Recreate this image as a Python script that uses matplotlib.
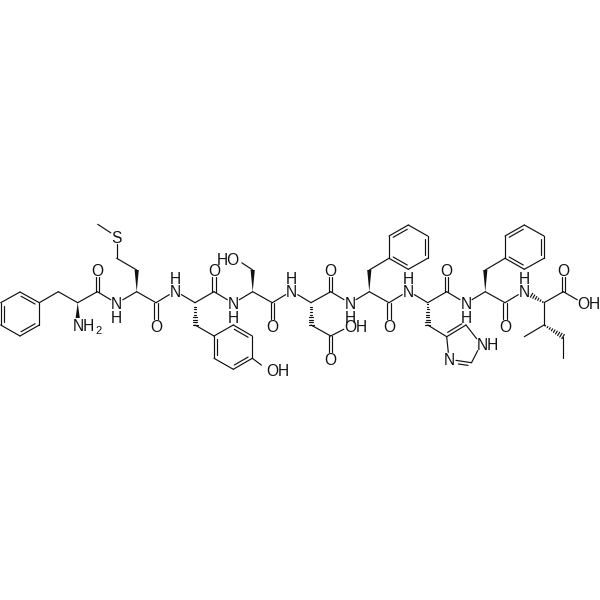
import numpy as np
import matplotlib
matplotlib.use("Agg")
import matplotlib.pyplot as plt
from matplotlib.collections import LineCollection
from matplotlib.patches import Polygon

plt.rcParams["font.family"] = ["Liberation Sans", "DejaVu Sans"]

# atoms in pixels
atom_names = [
    "r1a", "r1b", "r1c", "r1d", "r1e", "r1f", "cb1", "ca1", "n1", "c1", "o1",
    "n2", "ca2", "cb2", "cg2", "s2", "me2", "c2", "o2",
    "n3", "ca3", "cb3", "r3a", "r3b", "r3c", "r3d", "r3e", "r3f", "oh3", "c3", "o3",
    "n4", "ca4", "cb4", "oh4", "c4", "o4",
    "n5", "ca5", "cb5", "cg5", "od5", "oh5", "c5", "o5",
    "n6", "ca6", "cb6", "r6a", "r6b", "r6c", "r6d", "r6e", "r6f", "c6", "o6",
    "n7", "ca7", "cb7", "im1", "im2", "im3", "im4", "im5", "c7", "o7",
    "n8", "ca8", "cb8", "r8a", "r8b", "r8c", "r8d", "r8e", "r8f", "c8", "o8",
    "n9", "ca9", "c9", "o9", "oh9", "cb9", "me9", "cg9", "cd9",
]
atom_x = [
    39.3, 39.3, 20, 0.7, 0.7, 20, 58.3, 77.7, 77.7, 97.3, 97.3,
    116.7, 136.7, 136.7, 116.7, 116.7, 97.7, 156, 156,
    175.3, 195, 195, 214, 233.3, 252.3, 252.3, 233.3, 214, 267, 214, 214,
    233.3, 252.7, 252.7, 236, 272.3, 272.3,
    291.7, 311, 311, 330.7, 330.7, 350, 330.7, 330.7,
    350, 369.3, 369.3, 389, 389, 408.3, 427.7, 427.7, 408.3, 389, 389,
    408.3, 427.7, 427.7, 446.7, 466, 481, 471.5, 449, 446.7, 446.7,
    466, 485.3, 485.3, 505, 505, 524.3, 544, 544, 524.3, 505, 505,
    524.3, 544, 563.3, 563.3, 583.3, 544, 524.3, 563.3, 563.3,
]
atom_y = [
    302.7, 325, 336, 325, 302.7, 292, 291.7, 302.7, 325, 291.7, 270,
    303.3, 291.7, 270, 258.3, 236.7, 224.3, 302.7, 325.7,
    291, 302.7, 325, 336, 325, 336, 358.3, 369.3, 358.3, 369.3, 291.7, 270,
    303.3, 291.7, 270, 259, 302.7, 325.7,
    291, 302.7, 325, 336, 359, 326, 291.7, 270,
    303.3, 291.7, 270, 258.3, 236, 225, 236, 258.3, 269.3, 302.7, 325.7,
    291, 302.7, 325, 336.7, 325, 344.3, 362.7, 359.3, 291.7, 270,
    303.3, 291.7, 270, 258.3, 236, 225, 236, 258.3, 269.3, 302.7, 325.7,
    291, 302.7, 291.7, 270, 303.3, 325, 336.7, 336.7, 358.3,
]

single_bonds = [
    ("r1a", "r1b"), ("r1c", "r1d"), ("r1e", "r1f"), ("r1a", "cb1"), ("cb1", "ca1"),
    ("ca1", "c1"), ("c1", "n2"), ("n2", "ca2"), ("cb2", "cg2"), ("cg2", "s2"),
    ("s2", "me2"), ("ca2", "c2"), ("c2", "n3"), ("n3", "ca3"), ("cb3", "r3a"),
    ("r3a", "r3b"), ("r3c", "r3d"), ("r3e", "r3f"), ("r3d", "oh3"), ("ca3", "c3"),
    ("c3", "n4"), ("n4", "ca4"), ("cb4", "oh4"), ("ca4", "c4"), ("c4", "n5"),
    ("n5", "ca5"), ("cb5", "cg5"), ("cg5", "oh5"), ("ca5", "c5"), ("c5", "n6"),
    ("n6", "ca6"), ("cb6", "r6a"), ("r6a", "r6b"), ("r6c", "r6d"), ("r6e", "r6f"),
    ("ca6", "c6"), ("c6", "n7"), ("n7", "ca7"), ("cb7", "im1"), ("im2", "im3"),
    ("im3", "im4"), ("im5", "im1"), ("ca7", "c7"), ("c7", "n8"), ("n8", "ca8"),
    ("cb8", "r8a"), ("r8a", "r8b"), ("r8c", "r8d"), ("r8e", "r8f"), ("ca8", "c8"),
    ("c8", "n9"), ("ca9", "c9"), ("c9", "oh9"), ("ca9", "cb9"), ("cb9", "me9"),
    ("cg9", "cd9"),
]
# double bonds: carbonyls are centred, ring bonds name an atom on the inner side
carbonyls = [
    ("c1", "o1"), ("c2", "o2"), ("c3", "o3"), ("c4", "o4"), ("cg5", "od5"),
    ("c5", "o5"), ("c6", "o6"), ("c7", "o7"), ("c8", "o8"), ("c9", "o9"),
]
ring_doubles = [
    ("r1f", "r1a", "r1c"), ("r1b", "r1c", "r1e"), ("r1d", "r1e", "r1a"),
    ("r3f", "r3a", "r3c"), ("r3b", "r3c", "r3e"), ("r3d", "r3e", "r3a"),
    ("r6b", "r6c", "r6e"), ("r6d", "r6e", "r6a"), ("r6f", "r6a", "r6c"),
    ("r8b", "r8c", "r8e"), ("r8d", "r8e", "r8a"), ("r8f", "r8a", "r8c"),
]
# imidazole draws its second line outside the ring
outer_doubles = [("im1", "im2", "im4"), ("im4", "im5", "im2")]
wedge_bonds = [("ca1", "n1"), ("ca2", "cb2"), ("ca4", "cb4"), ("ca6", "cb6"), ("ca8", "cb8")]
hash_bonds = [("ca3", "cb3"), ("ca5", "cb5"), ("ca7", "cb7"), ("ca9", "n9"), ("cb9", "cg9")]

# atoms drawn with a text label, the bonds stop short of them
label_atoms = {"n1", "o1", "n2", "s2", "o2", "n3", "oh3", "o3", "n4", "oh4", "o4", "n5",
               "od5", "oh5", "o5", "n6", "o6", "n7", "im3", "im5", "o7", "n8", "o8", "n9",
               "o9", "oh9"}
oxygen_atoms = ["o1", "o2", "o3", "o4", "od5", "o5", "o6", "o7", "o8", "o9"]
nh_below = ["n2", "n4", "n6", "n8"]
nh_above = ["n3", "n5", "n7", "n9"]

pos = {n: np.array([x, y]) for n, x, y in zip(atom_names, atom_x, atom_y)}
ink = "#111111"
lw = 0.85
gap = 7.0
fs = 11.2


def trimmed(a, b):
    pa, pb = pos[a], pos[b]
    u = (pb - pa) / np.linalg.norm(pb - pa)
    if a in label_atoms:
        pa = pa + u * gap
    if b in label_atoms:
        pb = pb - u * gap
    return pa, pb


fig = plt.figure(figsize=(6, 6), dpi=100)
ax = fig.add_axes([0, 0, 1, 1])
ax.set_xlim(0, 600)
ax.set_ylim(600, 0)
ax.axis("off")

segments = [trimmed(a, b) for a, b in single_bonds]

for a, b in carbonyls:
    pa, pb = trimmed(a, b)
    u = (pb - pa) / np.linalg.norm(pb - pa)
    nrm = np.array([-u[1], u[0]]) * 1.6
    segments.append((pa + nrm, pb + nrm))
    segments.append((pa - nrm, pb - nrm))


def add_double(a, b, ref, sign):
    pa, pb = trimmed(a, b)
    segments.append((pa, pb))
    u = (pb - pa) / np.linalg.norm(pb - pa)
    nrm = np.array([-u[1], u[0]])
    if np.dot(nrm, pos[ref] - pa) * sign < 0:
        nrm = -nrm
    segments.append((pa + nrm * 3.2 + u * 3, pb + nrm * 3.2 - u * 3))


for a, b, ref in ring_doubles:
    add_double(a, b, ref, 1)
for a, b, ref in outer_doubles:
    add_double(a, b, ref, -1)

for a, b in hash_bonds:
    pa, pb = trimmed(a, b)
    u = (pb - pa) / np.linalg.norm(pb - pa)
    nrm = np.array([-u[1], u[0]])
    length = np.linalg.norm(pb - pa)
    for t in np.arange(1.5, length, 2.6):
        half = 0.3 + 2.2 * t / length
        c = pa + u * t
        segments.append((c - nrm * half, c + nrm * half))

ax.add_collection(LineCollection(segments, colors=ink, linewidths=lw, capstyle="round"))

for a, b in wedge_bonds:
    pa, pb = trimmed(a, b)
    u = (pb - pa) / np.linalg.norm(pb - pa)
    nrm = np.array([-u[1], u[0]]) * 2.1
    ax.add_patch(Polygon([pa, pb + nrm, pb - nrm], closed=True, fc=ink, ec="none"))


def label(x, y, s, ha="center"):
    ax.text(x, y, s, fontsize=fs, color=ink, ha=ha, va="center_baseline")


for n in oxygen_atoms:
    label(*pos[n], "O")
for n in nh_below:
    label(*pos[n], "N")
    label(pos[n][0], pos[n][1] + 13.5, "H")
for n in nh_above:
    label(*pos[n], "N")
    label(pos[n][0], pos[n][1] - 13.5, "H")

label(*pos["s2"], "S")
label(73, 325, "NH", ha="left")
ax.text(95.7, 330, "2", fontsize=8, color=ink, ha="left", va="center_baseline")
label(266.5, 370, "OH", ha="left")
label(240, 259, "HO", ha="right")
label(344.5, 326, "OH", ha="left")
label(476.5, 344.3, "NH", ha="left")
label(*pos["im5"], "N")
label(577.5, 303.3, "OH", ha="left")

fig.savefig("out.png", dpi=100, facecolor="white")
